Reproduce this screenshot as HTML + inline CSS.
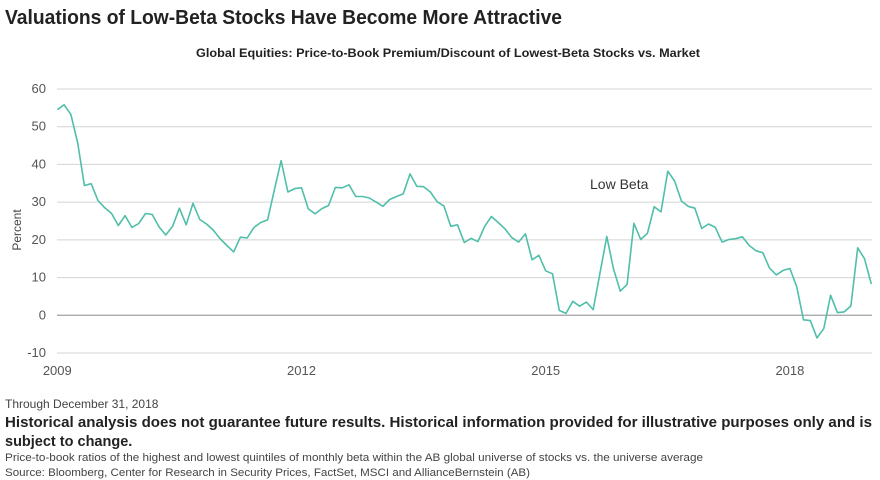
<!DOCTYPE html>
<html><head><meta charset="utf-8"><style>
body{margin:0;background:#fff}
svg{display:block;font-family:"Liberation Sans Narrow","Liberation Sans",sans-serif}
</style></head><body>
<svg id="chart" width="880" height="480" viewBox="0 0 880 480" xmlns="http://www.w3.org/2000/svg">
<text x="5" y="24" font-size="20" font-weight="bold" fill="#222" textLength="557" lengthAdjust="spacingAndGlyphs">Valuations of Low-Beta Stocks Have Become More Attractive</text>
<text x="196" y="57" font-size="12" font-weight="bold" fill="#222" textLength="504" lengthAdjust="spacingAndGlyphs">Global Equities: Price-to-Book Premium/Discount of Lowest-Beta Stocks vs. Market</text>
<g id="grid"></g>
<g id="yticks"></g>
<g id="xticks"></g>
<text transform="translate(21,230) rotate(-90)" text-anchor="middle" font-size="12" fill="#444">Percent</text>
<path id="line" fill="none" stroke="#4fbfa9" stroke-width="1.6" stroke-linejoin="round"/>
<text x="590" y="189" font-size="14" fill="#333">Low Beta</text>
<g font-family="Liberation Sans, sans-serif" fill="#333">
<text x="5" y="408" font-size="12" fill="#444">Through December 31, 2018</text>
<text x="5" y="427" font-size="14.5" font-weight="bold" fill="#222" textLength="867" lengthAdjust="spacingAndGlyphs">Historical analysis does not guarantee future results. Historical information provided for illustrative purposes only and is</text>
<text x="5" y="446" font-size="14.5" font-weight="bold" fill="#222">subject to change.</text>
<text x="5" y="461" font-size="11" fill="#444" textLength="698" lengthAdjust="spacingAndGlyphs">Price-to-book ratios of the highest and lowest quintiles of monthly beta within the AB global universe of stocks vs. the universe average</text>
<text x="5" y="476" font-size="11" fill="#444" textLength="525" lengthAdjust="spacingAndGlyphs">Source: Bloomberg, Center for Research in Security Prices, FactSet, MSCI and AllianceBernstein (AB)</text>
</g>
</svg>
<script>
const yTicks=[60,50,40,30,20,10,0,-10];
const xLabels=["2009","2012","2015","2018"];
const xLabelIdx=[0,36,72,108];
const values=[54.5,55.8,53.2,45.7,34.4,34.9,30.4,28.5,27,23.8,26.4,23.3,24.3,27,26.7,23.4,21.3,23.6,28.4,24,29.7,25.4,24.2,22.6,20.3,18.5,16.8,20.7,20.5,23.3,24.6,25.3,33.3,41,32.7,33.6,33.8,28.2,26.9,28.3,29.1,33.9,33.8,34.6,31.5,31.5,31.1,30,28.9,30.7,31.5,32.2,37.5,34.2,34.1,32.7,30.1,29,23.6,24,19.3,20.4,19.5,23.6,26.2,24.6,22.9,20.6,19.4,21.6,14.7,15.9,11.8,11,1.3,0.5,3.7,2.4,3.5,1.5,11.2,20.9,12.3,6.4,8.2,24.4,20.1,21.7,28.8,27.4,38.2,35.6,30.3,28.9,28.4,23,24.2,23.3,19.4,20.1,20.3,20.8,18.5,17.1,16.6,12.5,10.7,11.9,12.4,7.6,-1.2,-1.4,-6,-3.5,5.3,0.7,0.9,2.5,17.9,15,8.3];
const X0=57.3,X1=871.3,Y60=89,Ym10=353;
const x=i=>X0+(X1-X0)*i/(values.length-1);
const y=v=>Y60+(60-v)*(Ym10-Y60)/70;
const ns="http://www.w3.org/2000/svg";
const grid=document.getElementById('grid'),yt=document.getElementById('yticks'),xt=document.getElementById('xticks');
yTicks.forEach(t=>{
 const l=document.createElementNS(ns,'line');
 
 
 l.setAttribute('x1',57);l.setAttribute('x2',872);l.setAttribute('y1',y(t));l.setAttribute('y2',y(t));
 l.setAttribute('stroke',t===0?'#a0a0a0':'#d4d4d4');l.setAttribute('stroke-width',t===0?1.3:1);
 grid.appendChild(l);
 const tx=document.createElementNS(ns,'text');
 
 
 tx.setAttribute('x',46);tx.setAttribute('y',y(t)+4);tx.setAttribute('text-anchor','end');
 tx.setAttribute('font-size','13');tx.setAttribute('fill','#555');tx.textContent=t;
 yt.appendChild(tx);
});
xLabels.forEach((s,k)=>{
 const tx=document.createElementNS(ns,'text');
 
 
 tx.setAttribute('x',x(xLabelIdx[k]));tx.setAttribute('y',375);tx.setAttribute('text-anchor','middle');
 tx.setAttribute('font-size','13');tx.setAttribute('fill','#555');tx.textContent=s;
 xt.appendChild(tx);
});
document.getElementById('line').setAttribute('d',values.map((v,i)=>(i?'L':'M')+x(i).toFixed(1)+' '+y(v).toFixed(1)).join(''));
</script>
</body></html>
